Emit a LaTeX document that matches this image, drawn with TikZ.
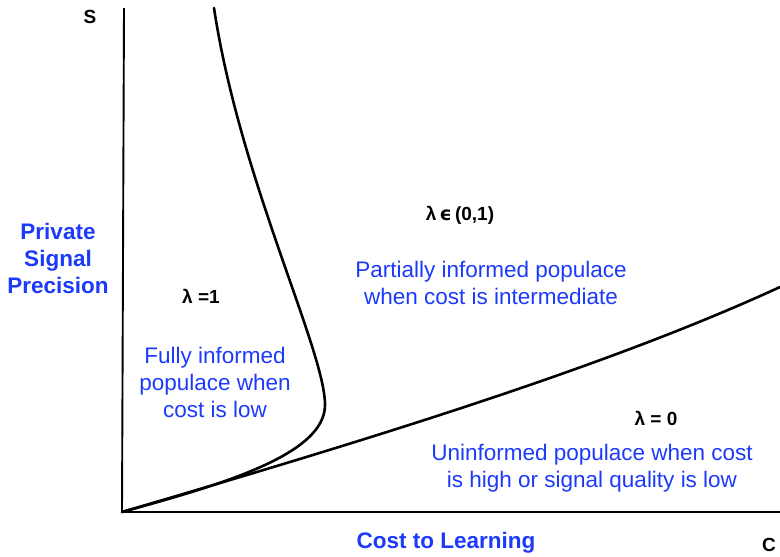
\documentclass[tikz,border=0pt]{standalone}
\usepackage{fontspec}
\setmainfont{Liberation Sans}
\newfontfamily\symfont{DejaVu Sans}
\usepackage{tikz}
\definecolor{myblue}{RGB}{28,58,250}
\newcommand\bigtext{\fontsize{22.5}{27}\selectfont}
\newcommand\smalltext{\fontsize{19}{22}\selectfont\bfseries}

\begin{document}
\begin{tikzpicture}[x=1pt,y=-1pt,
    axis/.style={line width=1.9pt},
    border/.style={line width=2.6pt,line cap=round},
    region/.style={myblue,align=center,font=\bigtext},
    axlabel/.style={myblue,align=center,font=\bigtext\bfseries},
    lam/.style={font=\smalltext}]
    \useasboundingbox (0,0) rectangle (780,557);

    \coordinate (O) at (122,512);
    \coordinate (ytop) at (124,8);
    \coordinate (xend) at (780,512);

    % axes
    \draw[axis] (ytop) -- (O) -- (xend);
    \node[font=\fontsize{19}{22}\selectfont\bfseries] (s) at (90,17) {S};
    \node[font=\fontsize{19}{22}\selectfont\bfseries] (c) at (769,545) {C};

    % lower boundary (lambda = 0)
    \draw[border] (O) .. controls (350,445) and (600,370) .. (780,287);

    % upper boundary (lambda = 1), bending back to the origin
    \draw[border] (O) .. controls (220,485) and (325,455) .. (325,405)
                      .. controls (325,350) and (240,180) .. (214,8);

    % region labels
    \node[lam] (l1) at (201,296) {λ =1};
    \node[lam] (lmid) at (460,215) {λ\,{\symfont ϵ}\,(0,1)};
    \node[lam] (l0) at (656,418) {λ = 0};

    \node[region] (full) at (215,382)
      {Fully informed\\populace when\\cost is low};
    \node[region] (part) at (491,283)
      {Partially informed populace\\when cost is intermediate};
    \node[region] (none) at (592,468)
      {Uninformed populace when cost\\is high or signal quality is low};

    % axis titles
    \node[axlabel] (ytitle) at (58,258) {Private\\Signal\\Precision};
    \node[axlabel] (xtitle) at (446,543) {Cost to Learning};
\end{tikzpicture}
\end{document}
